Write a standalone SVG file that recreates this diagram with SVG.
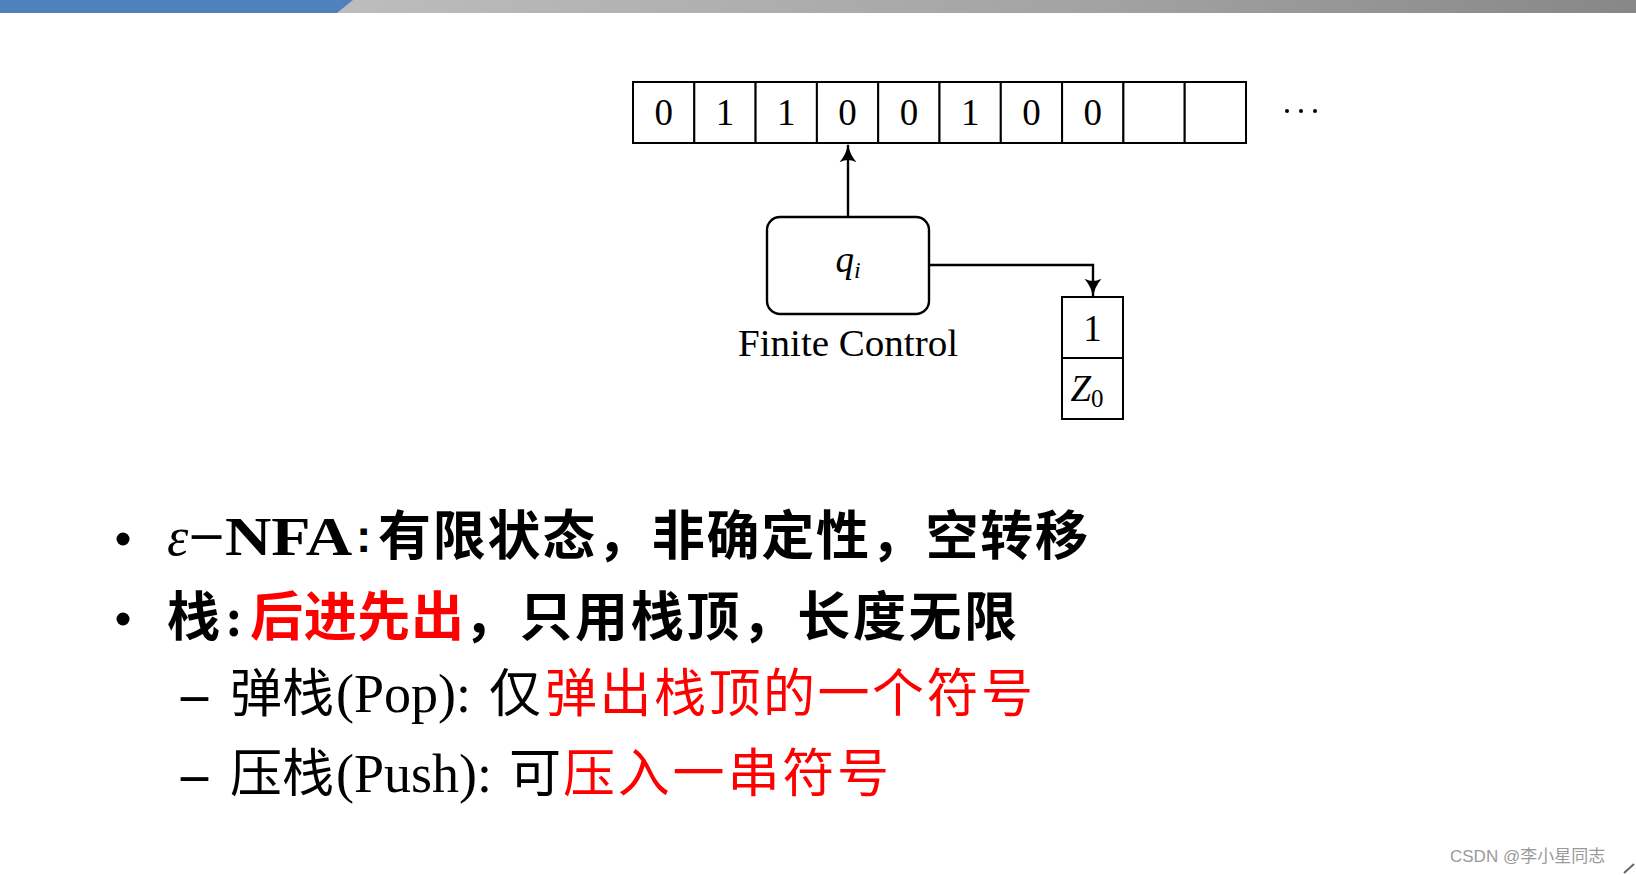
<svg xmlns="http://www.w3.org/2000/svg" width="1636" height="875" viewBox="0 0 1636 875">
<defs>
<linearGradient id="gbar" x1="0" y1="0" x2="1" y2="0">
<stop offset="0" stop-color="#bdbdbd"/>
<stop offset="0.6" stop-color="#a2a2a2"/>
<stop offset="1" stop-color="#878787"/>
</linearGradient>
<marker id="arr" viewBox="0 0 12 12" refX="11" refY="6" markerWidth="19" markerHeight="19" markerUnits="userSpaceOnUse" orient="auto">
<path d="M0,0.5 Q5,5 12,6 Q5,7 0,11.5 Q3,6 0,0.5 Z" fill="#000"/>
</marker>
<style>
.cell{fill:#fff;stroke:#000;stroke-width:2}
.tx{font-family:"Liberation Serif","DejaVu Serif",serif;font-size:37px;fill:#000;text-anchor:middle}
.conn{fill:none;stroke:#000;stroke-width:2.4}
.b1{font-family:"Noto Sans CJK SC",sans-serif;font-weight:bold;font-size:53px;fill:#000}
.r{fill:#ff0000}
.n{font-family:"Liberation Serif","Noto Sans CJK SC",serif;font-size:54px;fill:#000}
.cjk{font-family:"Noto Sans CJK SC",sans-serif;font-size:52px}
</style>
</defs>
<rect width="1636" height="875" fill="#fff"/>
<g id="topbar">
<polygon points="337,0 1636,0 1636,13 331,13" fill="url(#gbar)"/>
<polygon points="0,0 353,0 337,13 0,13" fill="#4f81bd"/>
</g>
<g id="tape">
<rect class="cell" x="633" y="82" width="61.3" height="61"/>
<rect class="cell" x="694.3" y="82" width="61.3" height="61"/>
<rect class="cell" x="755.6" y="82" width="61.3" height="61"/>
<rect class="cell" x="816.9" y="82" width="61.3" height="61"/>
<rect class="cell" x="878.2" y="82" width="61.3" height="61"/>
<rect class="cell" x="939.5" y="82" width="61.3" height="61"/>
<rect class="cell" x="1000.8" y="82" width="61.3" height="61"/>
<rect class="cell" x="1062.1" y="82" width="61.3" height="61"/>
<rect class="cell" x="1123.4" y="82" width="61.3" height="61"/>
<rect class="cell" x="1184.7" y="82" width="61.3" height="61"/>
<text class="tx" x="663.7" y="125">0</text>
<text class="tx" x="725" y="125">1</text>
<text class="tx" x="786.3" y="125">1</text>
<text class="tx" x="847.6" y="125">0</text>
<text class="tx" x="908.9" y="125">0</text>
<text class="tx" x="970.2" y="125">1</text>
<text class="tx" x="1031.5" y="125">0</text>
<text class="tx" x="1092.8" y="125">0</text>
<circle cx="1287" cy="111" r="2" fill="#000"/>
<circle cx="1301" cy="111" r="2" fill="#000"/>
<circle cx="1315" cy="111" r="2" fill="#000"/>
</g>
<g id="finite-control">
<rect x="767" y="217" width="162" height="97" rx="13" fill="#fff" stroke="#000" stroke-width="2.4"/>
<text class="tx" x="848" y="272" font-size="38"><tspan font-style="italic">q</tspan><tspan font-style="italic" font-size="24" dy="6">i</tspan></text>
<text class="tx" x="848" y="356" font-size="32" textLength="220" lengthAdjust="spacingAndGlyphs">Finite Control</text>
</g>
<g id="stack">
<rect class="cell" x="1062" y="297" width="61" height="61"/>
<rect class="cell" x="1062" y="358" width="61" height="61"/>
<text class="tx" x="1092.5" y="341">1</text>
<text class="tx" x="1087" y="401"><tspan font-style="italic">Z</tspan><tspan font-size="25" dy="6">0</tspan></text>
</g>
<g id="connectors">
<path class="conn" d="M848,217 V145" marker-end="url(#arr)"/>
<path class="conn" d="M929,265 H1093 V296" marker-end="url(#arr)"/>
</g>
<g id="bullets">
<circle cx="123" cy="539" r="6.5" fill="#000"/>
<circle cx="123" cy="619" r="6.5" fill="#000"/>
<text x="167" y="555" font-family="Liberation Serif,serif" font-size="54" fill="#000"><tspan font-style="italic">ε</tspan><tspan font-weight="bold" textLength="164" lengthAdjust="spacingAndGlyphs">−NFA</tspan></text>
<text x="356" y="552" font-family="Liberation Sans,sans-serif" font-weight="bold" font-size="46" fill="#000">:</text>
<text class="b1" x="378" y="555" textLength="710" lengthAdjust="spacing">有限状态，非确定性，空转移</text>
<text class="b1" x="167" y="636">栈</text>
<text x="225" y="636" font-family="Liberation Serif,serif" font-weight="bold" font-size="54" fill="#000">:</text>
<text class="b1 r" x="250" y="636" textLength="214" lengthAdjust="spacing">后进先出</text>
<text class="b1" x="464" y="636" textLength="553" lengthAdjust="spacing">，只用栈顶，长度无限</text>
<text x="181" y="712" font-family="Liberation Serif,serif" font-weight="bold" font-size="54" fill="#000">–</text>
<text x="181" y="792" font-family="Liberation Serif,serif" font-weight="bold" font-size="54" fill="#000">–</text>
<text class="n" x="230" y="712"><tspan class="cjk">弹栈</tspan><tspan x="336">(Pop):</tspan><tspan class="cjk" x="489">仅</tspan><tspan class="cjk r" x="545" textLength="488" lengthAdjust="spacing">弹出栈顶的一个符号</tspan></text>
<text class="n" x="230" y="792"><tspan class="cjk">压栈</tspan><tspan x="336">(Push):</tspan><tspan class="cjk" x="509">可</tspan><tspan class="cjk r" x="563" textLength="326" lengthAdjust="spacing">压入一串符号</tspan></text>
</g>
<g id="watermark">
<text x="1450" y="862" font-family="Liberation Sans,Noto Sans CJK SC,sans-serif" font-size="17" fill="#9a9a9a">CSDN @李小星同志</text>
<path d="M1624,873 L1634,864" stroke="#666" stroke-width="2"/>
</g>
</svg>
